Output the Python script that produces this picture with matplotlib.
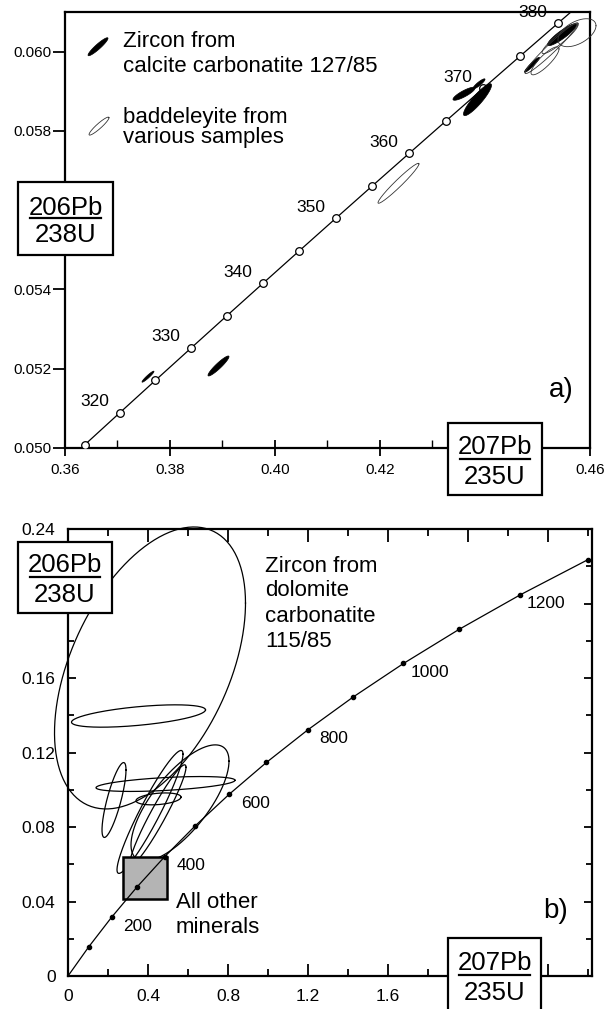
import matplotlib.pyplot as plt
import numpy as np
from matplotlib.patches import Rectangle
from matplotlib.ticker import MultipleLocator

plt.rcParams['font.family'] = ['Liberation Sans', 'DejaVu Sans']

# ---- panel a) concordia, 315-385 Ma every 5 Ma
a_ages = [315, 320, 325, 330, 335, 340, 345, 350, 355, 360, 365, 370, 375, 380, 385]
a_r75 = [0.36374, 0.37047, 0.37723, 0.38403, 0.39086, 0.39773, 0.40463, 0.41156,
         0.41853, 0.42553, 0.43257, 0.43964, 0.44675, 0.45389, 0.46107]
a_r68 = [0.050078, 0.050893, 0.051708, 0.052524, 0.053341, 0.054158, 0.054976, 0.055794,
         0.056614, 0.057433, 0.058254, 0.059075, 0.059897, 0.060719, 0.061542]
a_labels = [320, 330, 340, 350, 360, 370, 380]
a_xticks = ['0.36', '0.38', '0.40', '0.42', '', '0.46']
a_yticks = ['0.050', '0.052', '0.054', '', '0.058', '0.060']

# zircon from calcite carbonatite 127/85 (filled): x, y, half-width x, half-width y, rho
zc_x = [0.37581, 0.38924, 0.43857, 0.43600, 0.43886, 0.45467, 0.44895]
zc_y = [0.05180, 0.05207, 0.05879, 0.05894, 0.05919, 0.06043, 0.05967]
zc_sx = [0.00114, 0.00200, 0.00267, 0.00210, 0.00114, 0.00276, 0.00143]
zc_sy = [0.000139, 0.000252, 0.000403, 0.000164, 0.000126, 0.000277, 0.000189]
zc_rho = [0.95, 0.93, 0.90, 0.85, 0.90, 0.90, 0.95]

# baddeleyite from various samples (open)
bd_x = [0.42352, 0.45267, 0.45143, 0.45752, 0.45429]
bd_y = [0.05668, 0.06009, 0.05977, 0.06048, 0.06033]
bd_sx = [0.00390, 0.00505, 0.00267, 0.00362, 0.00343]
bd_sy = [0.000504, 0.000642, 0.000353, 0.000353, 0.000378]
bd_rho = [0.97, 0.97, 0.85, 0.50, 0.92]

# ---- panel b) concordia, 0-1300 Ma every 100 Ma
b_ages = [0, 100, 200, 300, 400, 500, 600, 700, 800, 900, 1000, 1100, 1200, 1300]
b_r75 = [0.0, 0.10350, 0.21771, 0.34374, 0.48281, 0.63628, 0.80563, 0.99251,
         1.19873, 1.42630, 1.67741, 1.95452, 2.26030, 2.59774]
b_r68 = [0.0, 0.015633, 0.031511, 0.047637, 0.064015, 0.080650, 0.097544, 0.114702,
         0.132129, 0.149828, 0.167804, 0.186061, 0.204603, 0.223434]
b_labels = [200, 400, 600, 800, 1000, 1200]
b_xticks = ['0', '0.4', '0.8', '1.2', '1.6', '', '']
b_yticks = ['0', '0.04', '0.08', '0.12', '0.16', '', '0.24']

# zircon from dolomite carbonatite 115/85
dz_x = [0.410, 0.3525, 0.4875, 0.4525, 0.230, 0.410, 0.450, 0.560]
dz_y = [0.1654, 0.1396, 0.1031, 0.0951, 0.0945, 0.0881, 0.0865, 0.0929]
dz_sx = [0.4775, 0.335, 0.3475, 0.1125, 0.060, 0.165, 0.140, 0.245]
dz_sy = [0.0757, 0.0060, 0.0040, 0.0032, 0.0201, 0.0330, 0.0269, 0.0312]
dz_rho = [0.46, 0.55, 0.50, 0.30, 0.80, 0.94, 0.95, 0.72]

# all other minerals field
other_x = [0.275, 0.495]
other_y = [0.0414, 0.0639]


def ellipse(cx, cy, sx, sy, rho, n=240):
    t = np.linspace(0, 2 * np.pi, n)
    return cx + sx * np.cos(t), cy + sy * (rho * np.cos(t) + np.sqrt(1 - rho ** 2) * np.sin(t))


def ratio_box(ax, x0, x1, y0, y1, num, den, yn, yl, yd):
    ax.add_patch(Rectangle((x0, y0), x1 - x0, y1 - y0, transform=ax.transAxes,
                           fc='white', ec='black', lw=1.6, clip_on=False, zorder=10))
    xc = (x0 + x1) / 2
    ax.text(xc, yn, num, transform=ax.transAxes, ha='center', va='baseline',
            fontsize=18.5, zorder=11)
    ax.plot([xc - 0.0676, xc + 0.0676], [yl, yl], transform=ax.transAxes,
            color='black', lw=1.6, clip_on=False, zorder=11)
    ax.text(xc, yd, den, transform=ax.transAxes, ha='center', va='baseline',
            fontsize=18.5, zorder=11)


fig = plt.figure(figsize=(6.16, 10.09), dpi=100)
ax1 = fig.add_axes([0.1055, 0.556, 0.8523, 0.432])
ax2 = fig.add_axes([0.1104, 0.0327, 0.8506, 0.443])

# ---------------- panel a
ax1.set_xlim(0.36, 0.46)
ax1.set_ylim(0.050, 0.061)
ax1.plot(a_r75, a_r68, '-', color='black', lw=0.9, marker='o', ms=5.5,
         mfc='white', mec='black', mew=0.9, zorder=3)
for age in a_labels:
    i = a_ages.index(age)
    ax1.annotate(str(age), (a_r75[i], a_r68[i]), xytext=(-25, 11), textcoords='offset pixels',
                 ha='center', va='center', fontsize=12.5)

for cx, cy, sx, sy, r in zip(zc_x, zc_y, zc_sx, zc_sy, zc_rho):
    ex, ey = ellipse(cx, cy, sx, sy, r)
    ax1.fill(ex, ey, color='black', lw=0.5, zorder=4)
for cx, cy, sx, sy, r in zip(bd_x, bd_y, bd_sx, bd_sy, bd_rho):
    ex, ey = ellipse(cx, cy, sx, sy, r)
    ax1.plot(ex, ey, color='#333333', lw=0.6, clip_on=False, zorder=4)

# legend symbols
ex, ey = ellipse(0.36629, 0.060126, 0.0019, 0.000227, 0.93)
ax1.fill(ex, ey, color='black', lw=0.5)
ex, ey = ellipse(0.36648, 0.058123, 0.0019, 0.000227, 0.93)
ax1.plot(ex, ey, color='#333333', lw=0.6)
ax1.text(0.1105, 0.9197, 'Zircon from', transform=ax1.transAxes, fontsize=16, va='baseline')
ax1.text(0.1105, 0.862, 'calcite carbonatite 127/85', transform=ax1.transAxes, fontsize=16, va='baseline')
ax1.text(0.1105, 0.745, 'baddeleyite from', transform=ax1.transAxes, fontsize=16, va='baseline')
ax1.text(0.1105, 0.6995, 'various samples', transform=ax1.transAxes, fontsize=16, va='baseline')
ax1.text(0.922, 0.117, 'a)', transform=ax1.transAxes, fontsize=20, va='baseline')

ax1.set_xticks([0.36, 0.38, 0.40, 0.42, 0.44, 0.46], labels=a_xticks)
ax1.xaxis.set_minor_locator(MultipleLocator(0.01))
ax1.set_yticks([0.050, 0.052, 0.054, 0.056, 0.058, 0.060], labels=a_yticks)
ax1.tick_params(axis='x', which='major', direction='inout', length=11, width=1.3,
                labelsize=11, pad=5)
ax1.tick_params(axis='x', which='minor', direction='in', length=6, width=1)
ax1.tick_params(axis='y', direction='out', length=9, width=1.3, labelsize=11, pad=1)
for s in ax1.spines.values():
    s.set_linewidth(1.6)

ratio_box(ax1, -0.0895, 0.0914, 0.4427, 0.610, '206Pb', '238U', 0.534, 0.5275, 0.4725)
ratio_box(ax1, 0.7295, 0.9086, -0.1078, 0.0573, '207Pb', '235U', -0.0138, -0.0252, -0.0826)

# ---------------- panel b
ax2.set_xlim(0, 2.62)
ax2.set_ylim(0, 0.24)
for cx, cy, sx, sy, r in zip(dz_x, dz_y, dz_sx, dz_sy, dz_rho):
    ex, ey = ellipse(cx, cy, sx, sy, r)
    ax2.plot(ex, ey, color='black', lw=0.9, clip_on=False, zorder=3)

ax2.add_patch(Rectangle((other_x[0], other_y[0]), other_x[1] - other_x[0], other_y[1] - other_y[0],
                        fc='#b4b4b4', ec='black', lw=1.8, zorder=4))
ax2.plot(b_r75, b_r68, '-', color='black', lw=0.9, zorder=5)
ax2.plot(b_r75[1:], b_r68[1:], 'o', color='black', ms=3, zorder=5)
for age in b_labels:
    i = b_ages.index(age)
    ax2.annotate(str(age), (b_r75[i], b_r68[i]), xytext=(26, -9), textcoords='offset pixels',
                 ha='center', va='center', fontsize=12.5)

ax2.text(0.376, 0.904, 'Zircon from', transform=ax2.transAxes, fontsize=16, va='baseline')
ax2.text(0.376, 0.850, 'dolomite', transform=ax2.transAxes, fontsize=16, va='baseline')
ax2.text(0.376, 0.792, 'carbonatite', transform=ax2.transAxes, fontsize=16, va='baseline')
ax2.text(0.376, 0.736, '115/85', transform=ax2.transAxes, fontsize=16, va='baseline')
ax2.text(0.206, 0.152, 'All other', transform=ax2.transAxes, fontsize=16, va='baseline')
ax2.text(0.206, 0.096, 'minerals', transform=ax2.transAxes, fontsize=16, va='baseline')
ax2.text(0.906, 0.130, 'b)', transform=ax2.transAxes, fontsize=20, va='baseline')

ax2.set_xticks([0, 0.4, 0.8, 1.2, 1.6, 2.0, 2.4], labels=b_xticks)
ax2.xaxis.set_minor_locator(MultipleLocator(0.2))
ax2.set_yticks([0, 0.04, 0.08, 0.12, 0.16, 0.20, 0.24], labels=b_yticks)
ax2.yaxis.set_minor_locator(MultipleLocator(0.02))
ax2.tick_params(which='both', direction='in', top=True, right=True, width=1.3, labelsize=12.5)
ax2.tick_params(axis='x', which='major', length=9, pad=9)
ax2.tick_params(axis='x', which='minor', length=5)
ax2.tick_params(axis='y', which='major', length=6, pad=9)
ax2.tick_params(axis='y', which='minor', length=4)
for s in ax2.spines.values():
    s.set_linewidth(1.6)

ratio_box(ax2, -0.0954, 0.084, 0.812, 0.971, '206Pb', '238U', 0.904, 0.8926, 0.8367)
ratio_box(ax2, 0.725, 0.903, -0.0805, 0.085, '207Pb', '235U', 0.0134, 0.0022, -0.0537)

fig.savefig('out.png', dpi=100)
